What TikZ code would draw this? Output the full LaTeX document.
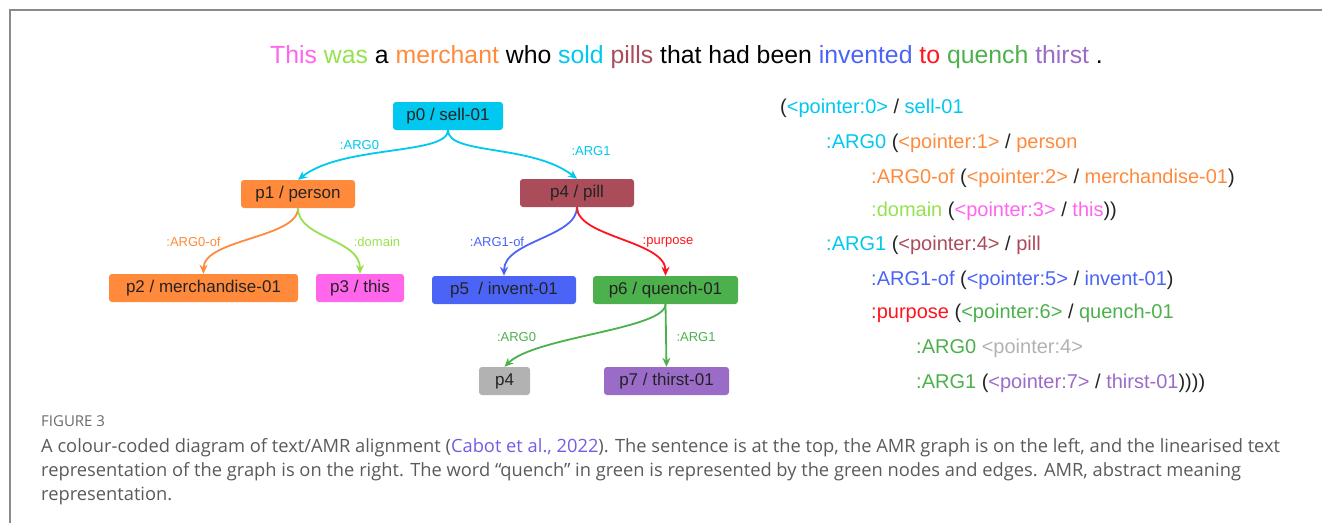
\documentclass[tikz,border=0pt]{standalone}
\usepackage{fontspec}
\setmainfont{Liberation Sans}
\newfontfamily\capfont{Open Sans}
\usetikzlibrary{arrows.meta,positioning}
\definecolor{cSell}{RGB}{0,200,238}
\definecolor{cPerson}{RGB}{255,138,60}
\definecolor{cDomain}{RGB}{150,225,80}
\definecolor{cThis}{RGB}{255,102,235}
\definecolor{cPill}{RGB}{170,76,90}
\definecolor{cInvent}{RGB}{75,100,245}
\definecolor{cPurpose}{RGB}{255,20,30}
\definecolor{cQuench}{RGB}{76,176,76}
\definecolor{cThirst}{RGB}{155,107,200}
\definecolor{cRef}{RGB}{178,178,178}
\definecolor{cDark}{RGB}{35,35,35}
\definecolor{cFrame}{RGB}{138,138,138}
\definecolor{cCap}{RGB}{90,90,90}
\definecolor{cCite}{RGB}{110,95,230}
\newcommand{\ptr}[2]{\textcolor{#1}{<pointer:#2>}}
\newcommand{\tc}[2]{\textcolor{#1}{#2}}

\begin{document}
\begin{tikzpicture}[x=1pt, y=-1pt,
  box/.style={rounded corners=3pt, minimum height=28pt, inner sep=0pt, text=cDark, font=\fontsize{17}{20}\selectfont},
  edge/.style={line width=1.8pt, -{Stealth[length=9pt,width=8pt]}},
  lbl/.style={font=\fontsize{13}{15}\selectfont, inner sep=0pt},
  amr/.style={anchor=base west, inner sep=0pt, font=\fontsize{20}{24}\selectfont, text=cDark},
  captxt/.style={anchor=base west, inner sep=0pt, text=cCap, font=\capfont\fontsize{18.3}{20}\selectfont}]
\useasboundingbox (0,0) rectangle (1322,523);
\draw[line width=2pt, cFrame] (10,523) -- (10,10) -- (1322,10);
% sentence
\node[inner sep=0pt, text=black, font=\fontsize{24.8}{30}\selectfont] (sent) at (686.5,57)
  {\tc{cThis}{This} \tc{cDomain}{was} a \tc{cPerson}{merchant} who \tc{cSell}{sold} \tc{cPill}{pills} that had been \tc{cInvent}{invented} \tc{cPurpose}{to} \tc{cQuench}{quench} \tc{cThirst}{thirst} .};
% graph nodes
\node[box, fill=cSell, minimum width=110pt] (p0) at (448,116) {p0 / sell-01};
\node[box, fill=cPerson, minimum width=114pt] (p1) at (298,194) {p1 / person};
\node[box, fill=cPill, minimum width=114pt] (p4) at (577,193) {p4 / pill};
\node[box, fill=cPerson, minimum width=189pt] (p2) at (203.5,288) {p2 / merchandise-01};
\node[box, fill=cThis, minimum width=88pt] (p3) at (360,288) {p3 / this};
\node[box, fill=cInvent, minimum width=144pt] (p5) at (504,290) {p5~ / invent-01};
\node[box, fill=cQuench, minimum width=145pt] (p6) at (665.5,290) {p6 / quench-01};
\node[box, fill=cRef, minimum width=51pt] (p4r) at (504.5,381) {p4};
\node[box, fill=cThirst, minimum width=125pt] (p7) at (666.5,381) {p7 / thirst-01};
% edges
\draw[edge, cSell] (p0.south) .. controls +(0,25) and +(45,-35) .. (p1.north);
\draw[edge, cSell] (p0.south) .. controls +(0,25) and +(-45,-35) .. (p4.north);
\draw[edge, cPerson] (p1.south) .. controls +(0,30) and +(0,-35) .. (p2.north);
\draw[edge, cDomain] (p1.south) .. controls +(0,30) and +(0,-35) .. (p3.north);
\draw[edge, cInvent] (p4.south) .. controls +(0,30) and +(0,-35) .. (p5.north);
\draw[edge, cPurpose] (p4.south) .. controls +(0,30) and +(0,-35) .. (p6.north);
\draw[edge, cQuench] (p6.south) .. controls +(0,25) and +(30,-30) .. (p4r.north);
\draw[edge, cQuench] (p6.south) -- (p7.north);
% edge labels
\path (359.5,145) node[lbl, text=cSell] (lp0a) {:ARG0};
\path (591,151) node[lbl, text=cSell] (lp0b) {:ARG1};
\path (193.5,242) node[lbl, text=cPerson] (lp1a) {:ARG0-of};
\path (377,242) node[lbl, text=cDomain] (lp1b) {:domain};
\path (497,242) node[lbl, text=cInvent] (lp4a) {:ARG1-of};
\path (668,242) node[lbl, text=cPurpose] (lp4b) {:purpose};
\path (516.5,337) node[lbl, text=cQuench] (lp6a) {:ARG0};
\path (696,337) node[lbl, text=cQuench] (lp6b) {:ARG1};
% linearised AMR
\path (780,113.5) node[amr] (l0) {(\ptr{cSell}{0} / \tc{cSell}{sell-01}};
\path (826,148.5) node[amr] (l1) {\tc{cSell}{:ARG0} (\ptr{cPerson}{1} / \tc{cPerson}{person}};
\path (871,183) node[amr] (l2) {\tc{cPerson}{:ARG0-of} (\ptr{cPerson}{2} / \tc{cPerson}{merchandise-01})};
\path (871,216.5) node[amr] (l3) {\tc{cDomain}{:domain} (\ptr{cThis}{3} / \tc{cThis}{this}))};
\path (826,250.5) node[amr] (l4) {\tc{cSell}{:ARG1} (\ptr{cPill}{4} / \tc{cPill}{pill}};
\path (871,285) node[amr] (l5) {\tc{cInvent}{:ARG1-of} (\ptr{cInvent}{5} / \tc{cInvent}{invent-01})};
\path (871,318.5) node[amr] (l6) {\tc{cPurpose}{:purpose} (\ptr{cQuench}{6} / \tc{cQuench}{quench-01}};
\path (916,353) node[amr] (l7) {\tc{cQuench}{:ARG0} \ptr{cRef}{4}};
\path (916,388.5) node[amr] (l8) {\tc{cQuench}{:ARG1} (\ptr{cThirst}{7} / \tc{cThirst}{thirst-01}))))};
% caption
\path (41,426) node[captxt, font=\capfont\fontsize{15}{17}\selectfont, text=cCap!90] (fig) {FIGURE 3};
\path (41,452) node[captxt] (c1) {A colour-coded diagram of text/AMR alignment (\tc{cCite}{Cabot et al., 2022}). The sentence is at the top, the AMR graph is on the left, and the linearised text};
\path (41,476) node[captxt] (c2) {representation of the graph is on the right. The word “quench” in green is represented by the green nodes and edges. AMR, abstract meaning};
\path (41,500) node[captxt] (c3) {representation.};
\end{tikzpicture}
\end{document}
